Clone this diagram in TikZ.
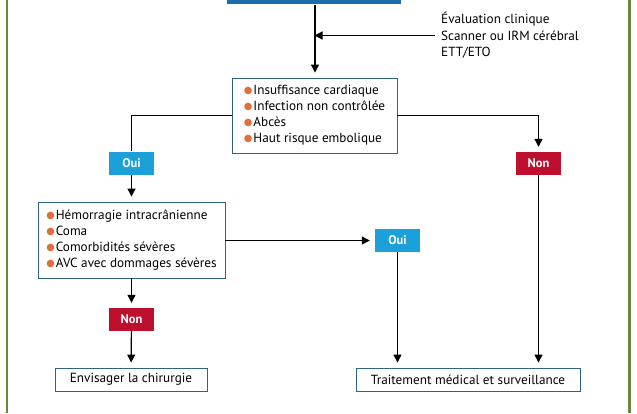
\documentclass[tikz,border=0pt]{standalone}
\usepackage{fontspec}
\setmainfont{PT Sans}
\newfontfamily\symfont{DejaVu Sans}
\usetikzlibrary{arrows.meta}
\definecolor{frame}{RGB}{108,134,62}
\definecolor{hdrblue}{RGB}{28,108,172}
\definecolor{ouiblue}{RGB}{28,160,218}
\definecolor{nonred}{RGB}{190,16,46}
\definecolor{boxline}{RGB}{45,100,128}
\definecolor{bulc}{RGB}{226,110,60}
\newcommand\bul{\raisebox{1.4pt}{\symfont\fontsize{9.8}{8}\selectfont\textcolor{bulc}{●}}\hspace{1pt}}
\tikzset{
  listbox/.style={draw=boxline, line width=0.9pt, fill=white, align=left, inner sep=0pt,
    font=\fontsize{13.2}{16}\selectfont, anchor=center},
  endbox/.style={draw=boxline, line width=0.9pt, fill=white, inner sep=0pt,
    minimum height=23, font=\fontsize{13.2}{15}\selectfont},
  tag/.style={inner sep=0pt, minimum width=45, minimum height=23, text=white,
    font=\bfseries\fontsize{12.5}{14}\selectfont},
  oui/.style={tag, fill=ouiblue},
  non/.style={tag, fill=nonred},
  conn/.style={line width=1.2pt, black},
  arr/.style={conn, -{Triangle[width=8pt,length=8pt]}, shorten >=5pt},
}
\begin{document}
\begin{tikzpicture}[x=1pt,y=-1pt]
\useasboundingbox (0,0) rectangle (637,413);
\clip (0,0) rectangle (637,413);
\fill[white] (0,0) rectangle (637,413);
% frame lines
\draw[frame, line width=2.2pt] (6.8,0) -- (6.8,413);
\draw[frame, line width=2.2pt] (629.5,0) -- (629.5,413);
% header
\node[fill=hdrblue, minimum width=174, minimum height=30, inner sep=0pt, anchor=south west] (hdr) at (227,4.5) {};
% evaluation text
\node[anchor=west, align=left, inner sep=0pt, font=\fontsize{13.2}{16.5}\selectfont] (evl) at (441,35.5)
  {Évaluation clinique\\Scanner ou IRM cérébral\\ETT/ETO};
\coordinate (j1) at (315,35.5);
% box 1
\node[listbox, minimum width=165, minimum height=75] (b1) at (314.5,115.5)
  {\bul Insuffisance cardiaque\\\bul Infection non contrôlée\\\bul Abcès\\\bul Haut risque embolique};
% box 2
\node[listbox, minimum width=187, minimum height=76] (b2) at (131.5,240)
  {\bul Hémorragie intracrânienne\\\bul Coma\\\bul Comorbidités sévères\\\bul AVC avec dommages sévères};
% tags
\node[oui] (oui1) at (131.5,163) {Oui};
\node[non] (non1) at (538.5,163.5) {Non};
\node[oui] (oui2) at (397.5,240.5) {Oui};
\node[non] (non2) at (131.5,319.5) {Non};
% end boxes
\node[endbox, minimum width=152] (env) at (131,379.5) {Envisager la chirurgie};
\node[endbox, minimum width=224] (trt) at (468,379.5) {Traitement médical et surveillance};
% connectors
\draw[arr] (hdr.south -| j1) -- (b1.north -| j1);
\draw[conn, -{Triangle[width=8pt,length=8pt]}, shorten >=-0.5pt] (evl.west) ++(-6,0) -- (j1) ;
\draw[conn] (b1.west) -| (oui1.north);
\draw[arr] (b1.east) -| (non1.north);
\draw[arr] (oui1) -- (b2);
\draw[arr] (b2.east |- oui2) -- (oui2.west);
\draw[arr] (b2) -- (non2);
\draw[arr] (non2) -- (env);
\draw[arr] (oui2) -- (oui2 |- trt.north);
\draw[arr] (non1) -- (non1 |- trt.north);
\end{tikzpicture}
\end{document}
